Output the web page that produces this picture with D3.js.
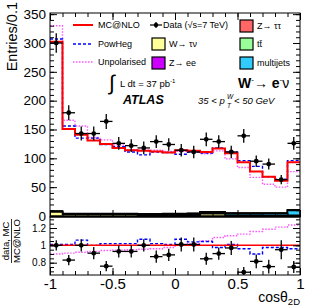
<!DOCTYPE html>
<html>
<head>
<meta charset="utf-8">
<script src="https://cdn.jsdelivr.net/npm/d3@7"></script>
<style>
  body { margin: 0; background: #fff; }
  svg text { font-family: "Liberation Sans", Arial, sans-serif; }
  .tick line { stroke: #000; stroke-width: 1; }
</style>
</head>
<body>
<div id="chart"></div>
<script>
// bin edges in cos(theta_2D)
var edges = [-1, -0.9, -0.8, -0.7, -0.6, -0.5, -0.4, -0.3, -0.2, -0.1, 0,
             0.1, 0.2, 0.3, 0.4, 0.5, 0.6, 0.7, 0.8, 0.9, 1];

// main panel (entries / 0.1)
var dataVals = [300, 179, 143, 143, 164, 126, 122, 118, 129, 124, 114, 111, 133, 129, 111, 139, 95, 90, 63, 126];
var dataErr  = [17, 13, 12, 12, 13, 11, 11, 11, 11, 11, 11, 11, 12, 11, 11, 12, 10, 9.5, 8, 11];
var mcnlo    = [302, 151, 141, 131, 125, 118, 114, 113, 112, 110, 114, 113, 111, 117, 109, 93, 77, 68, 61, 93];
var powheg   = [307, 156, 135, 135, 124, 120, 111, 106, 111, 110, 107, 111, 109, 118, 111, 96, 86, 68, 64, 96];
var unpol    = [330, 166, 156, 136, 132, 123, 115, 114, 114, 112, 112, 112, 108, 113, 99, 84, 67, 55, 50, 77];

// backgrounds (stacked)
var bkgWtaunu = [7, 3, 3, 3, 3, 3, 3, 2.5, 2.5, 2.5, 2, 2, 4, 4, 1.5, 1.5, 1.5, 1, 1, 1.5];
var bkgQCD    = [0, 0, 0, 0, 0, 0, 0, 0, 0.3, 0.5, 1, 1.5, 2, 2, 2.5, 2.5, 2.5, 3, 3, 8];
var bkgTtbar  = [1, 0.5, 0.5, 0.5, 0.5, 0.5, 0.5, 0.5, 0.5, 0.5, 0.5, 0.5, 0.5, 0.5, 0.5, 0.5, 0.5, 0.5, 0.5, 0.5];
var bkgZee    = [0.3, 0.3, 0.3, 0.3, 0.3, 0.3, 0.3, 0.3, 0.3, 0.3, 0.3, 0.3, 0.3, 0.3, 0.3, 0.3, 0.3, 0.3, 0.3, 0.3];
var bkgZtautau= [0.5, 0.5, 0.5, 0.5, 0.5, 0.5, 0.5, 0.5, 0.5, 0.5, 0.5, 0.5, 0.5, 0.5, 0.5, 0.5, 0.5, 0.5, 0.5, 0.5];

// ratio panel
var ratioData   = [1.0, 0.83, 1.0, 0.91, 0.76, 0.93, 0.93, 1.0, 0.87, 0.89, 1.01, 1.01, 0.845, 0.905, 0.97, 0.69, 0.815, 0.755, 0.95, 0.75];
var ratioErr    = [0.06, 0.06, 0.07, 0.07, 0.06, 0.07, 0.07, 0.07, 0.07, 0.07, 0.08, 0.08, 0.07, 0.07, 0.08, 0.06, 0.08, 0.08, 0.11, 0.07];
var ratioPowheg = [1.01, 1.01, 1.06, 1.0, 1.02, 1.02, 1.02, 1.07, 1.02, 1.01, 1.07, 1.04, 1.045, 0.975, 1.01, 0.96, 0.9, 0.975, 0.975, 0.96];
var ratioUnpol  = [0.90, 0.91, 0.92, 0.93, 0.94, 0.945, 0.95, 0.955, 0.96, 0.975, 1.0, 1.02, 1.05, 1.09, 1.11, 1.13, 1.16, 1.185, 1.21, 1.235];

var xTicks = [-1, -0.5, 0, 0.5, 1];
var xTickLabels = ["-1", "-0.5", "0", "0.5", "1"];
var yTicks = [0, 50, 100, 150, 200, 250, 300, 350];
var rTicks = [0.8, 1, 1.2];
var rTickLabels = ["0.8", "1", "1.2"];

var W = 316, H = 308;
var L = 50, R = 300, T = 13, B = 217, RB = 275;

var svg = d3.select("#chart").append("svg").attr("width", W).attr("height", H);

var x = d3.scaleLinear().domain([-1, 1]).range([L, R]);
var y = d3.scaleLinear().domain([0, 352]).range([216, T]);
var yr = d3.scaleLinear().domain([0.658, 1.327]).range([RB, B]);

function stepPts(vals) {
  var p = vals.map(function(v, i) { return [edges[i], v]; });
  p.push([edges[edges.length - 1], vals[vals.length - 1]]);
  return p;
}
var lineMain = d3.line().x(function(d) { return x(d[0]); }).y(function(d) { return y(d[1]); }).curve(d3.curveStepAfter);
var lineRatio = d3.line().x(function(d) { return x(d[0]); }).y(function(d) { return yr(d[1]); }).curve(d3.curveStepAfter);

svg.append("clipPath").attr("id", "cmain").append("rect").attr("x", L).attr("y", T).attr("width", R - L).attr("height", B - T);
svg.append("clipPath").attr("id", "cratio").append("rect").attr("x", L).attr("y", B).attr("width", R - L).attr("height", RB - B);

var gm = svg.append("g").attr("clip-path", "url(#cmain)");

// stacked backgrounds
var bkgKeys = ["wtaunu", "qcd", "ttbar", "zee", "ztautau"];
var bkgCols = {wtaunu: "#ffff99", qcd: "#33ccff", ttbar: "#99ff99", zee: "#cc00ff", ztautau: "#ff6666"};
var rows = dataVals.map(function(d, i) {
  return {wtaunu: bkgWtaunu[i], qcd: bkgQCD[i], ttbar: bkgTtbar[i], zee: bkgZee[i], ztautau: bkgZtautau[i]};
});
var stacked = d3.stack().keys(bkgKeys)(rows);
var area = d3.area().x(function(d) { return x(d[0]); }).y0(y(0)).y1(function(d) { return y(d[1]); }).curve(d3.curveStepAfter);
stacked.slice().reverse().forEach(function(s) {
  var tops = stepPts(s.map(function(d) { return d[1]; }));
  gm.append("path").attr("d", area(tops)).attr("fill", bkgCols[s.key]).attr("stroke", "#000").attr("stroke-width", 1.5);
});

// MC curves
gm.append("path").attr("d", lineMain(stepPts(unpol))).attr("fill", "none")
  .attr("stroke", "#ff55ff").attr("stroke-width", 1.4).attr("stroke-dasharray", "1.5,1.5");
gm.append("path").attr("d", lineMain(stepPts(powheg))).attr("fill", "none")
  .attr("stroke", "#0000ff").attr("stroke-width", 1.4).attr("stroke-dasharray", "3,2");
gm.append("path").attr("d", lineMain(stepPts(mcnlo))).attr("fill", "none")
  .attr("stroke", "#ff0000").attr("stroke-width", 2);

// data points
var dg = gm.append("g");
dataVals.forEach(function(v, i) {
  var cx = x((edges[i] + edges[i + 1]) / 2);
  dg.append("line").attr("x1", x(edges[i])).attr("x2", x(edges[i + 1])).attr("y1", y(v)).attr("y2", y(v))
    .attr("stroke", "#000").attr("stroke-width", 1.3);
  dg.append("line").attr("x1", cx).attr("x2", cx).attr("y1", y(v - dataErr[i])).attr("y2", y(v + dataErr[i]))
    .attr("stroke", "#000").attr("stroke-width", 1.3);
  dg.append("circle").attr("cx", cx).attr("cy", y(v)).attr("r", 2.4).attr("fill", "#000");
});

// ratio panel
var gr = svg.append("g").attr("clip-path", "url(#cratio)");
gr.append("path").attr("d", lineRatio(stepPts(ratioUnpol))).attr("fill", "none")
  .attr("stroke", "#ff55ff").attr("stroke-width", 1.4).attr("stroke-dasharray", "1.5,1.5");
gr.append("path").attr("d", lineRatio(stepPts(ratioPowheg))).attr("fill", "none")
  .attr("stroke", "#0000ff").attr("stroke-width", 1.4).attr("stroke-dasharray", "3,2");
gr.append("line").attr("x1", L).attr("x2", R).attr("y1", yr(1)).attr("y2", yr(1))
  .attr("stroke", "#ff0000").attr("stroke-width", 1.5);
ratioData.forEach(function(v, i) {
  var cx = x((edges[i] + edges[i + 1]) / 2);
  gr.append("line").attr("x1", x(edges[i])).attr("x2", x(edges[i + 1])).attr("y1", yr(v)).attr("y2", yr(v))
    .attr("stroke", "#000").attr("stroke-width", 1.3);
  gr.append("line").attr("x1", cx).attr("x2", cx).attr("y1", yr(v - ratioErr[i])).attr("y2", yr(v + ratioErr[i]))
    .attr("stroke", "#000").attr("stroke-width", 1.3);
  gr.append("circle").attr("cx", cx).attr("cy", yr(v)).attr("r", 2.4).attr("fill", "#000");
});

// axes (ticks inside, ROOT style)
function addAxis(axis, tx, ty, fs) {
  var g = svg.append("g").attr("transform", "translate(" + tx + "," + ty + ")").call(axis);
  g.select(".domain").remove();
  g.selectAll("text").attr("font-size", fs).attr("font-family", "'Liberation Sans', Arial, sans-serif").attr("fill", "#000");
  return g;
}
var minorX = d3.range(-1, 1.0001, 0.1);
var minorY = d3.range(0, 351, 10);
var minorR = d3.range(0.7, 1.3001, 0.05);

addAxis(d3.axisLeft(y).tickValues(yTicks).tickSize(-7).tickPadding(4).tickFormat(d3.format("d")), L, 0, 13.5);
addAxis(d3.axisLeft(y).tickValues(minorY).tickSize(-4).tickFormat(""), L, 0, 10);
addAxis(d3.axisRight(y).tickValues(yTicks).tickSize(-7).tickFormat(""), R, 0, 10);
addAxis(d3.axisRight(y).tickValues(minorY).tickSize(-4).tickFormat(""), R, 0, 10);
addAxis(d3.axisTop(x).tickValues(xTicks).tickSize(-7).tickFormat(""), 0, T, 10);
addAxis(d3.axisTop(x).tickValues(minorX).tickSize(-4).tickFormat(""), 0, T, 10);
addAxis(d3.axisBottom(x).tickValues(xTicks).tickSize(-7).tickFormat(""), 0, B, 10);
addAxis(d3.axisBottom(x).tickValues(minorX).tickSize(-4).tickFormat(""), 0, B, 10);

addAxis(d3.axisLeft(yr).tickValues(rTicks).tickSize(-7).tickPadding(4)
  .tickFormat(function(d, i) { return rTickLabels[i]; }), L, 0, 10);
addAxis(d3.axisLeft(yr).tickValues(minorR).tickSize(-4).tickFormat(""), L, 0, 10);
addAxis(d3.axisRight(yr).tickValues(rTicks).tickSize(-7).tickFormat(""), R, 0, 10);
addAxis(d3.axisRight(yr).tickValues(minorR).tickSize(-4).tickFormat(""), R, 0, 10);
addAxis(d3.axisBottom(x).tickValues(xTicks).tickSize(-7).tickPadding(3)
  .tickFormat(function(d, i) { return xTickLabels[i]; }), 0, RB, 15);
addAxis(d3.axisBottom(x).tickValues(minorX).tickSize(-4).tickFormat(""), 0, RB, 10);

// frames
svg.append("rect").attr("x", L).attr("y", T).attr("width", R - L).attr("height", B - T)
  .attr("fill", "none").attr("stroke", "#000").attr("stroke-width", 1);
svg.append("rect").attr("x", L).attr("y", B).attr("width", R - L).attr("height", RB - B)
  .attr("fill", "none").attr("stroke", "#000").attr("stroke-width", 1);

// axis titles
svg.append("text").attr("transform", "translate(16.5,2) rotate(-90)").attr("text-anchor", "end")
  .attr("font-size", 14.5).text("Entries/0.1");
var rt = svg.append("g").attr("transform", "translate(0,241) rotate(-90)");
rt.append("text").attr("x", 0).attr("y", 9).attr("text-anchor", "middle").attr("font-size", 9.5).text("data, MC");
rt.append("line").attr("x1", -22).attr("x2", 22).attr("y1", 11.5).attr("y2", 11.5).attr("stroke", "#000").attr("stroke-width", 0.8);
rt.append("text").attr("x", 0).attr("y", 19.5).attr("text-anchor", "middle").attr("font-size", 9.5).text("MC@NLO");
var xt = svg.append("text").attr("x", R).attr("y", 302).attr("text-anchor", "end").attr("font-size", 14);
xt.append("tspan").text("cos\u03b8");
xt.append("tspan").attr("font-size", 9.5).attr("dy", 3).text("2D");

// legend
var fs = 9;
var lgLines = [
  {label: "MC@NLO", color: "#ff0000", dash: null, w: 2, yy: 25},
  {label: "PowHeg", color: "#0000ff", dash: "3,2", w: 1.4, yy: 44},
  {label: "Unpolarised", color: "#ff55ff", dash: "1.5,1.5", w: 1.4, yy: 62}
];
lgLines.forEach(function(d) {
  svg.append("line").attr("x1", 73).attr("x2", 93).attr("y1", d.yy).attr("y2", d.yy)
    .attr("stroke", d.color).attr("stroke-width", d.w).attr("stroke-dasharray", d.dash);
  svg.append("text").attr("x", 98).attr("y", d.yy + 3.3).attr("font-size", fs).text(d.label);
});
svg.append("line").attr("x1", 150).attr("x2", 162).attr("y1", 25).attr("y2", 25).attr("stroke", "#000").attr("stroke-width", 1.2);
svg.append("line").attr("x1", 156).attr("x2", 156).attr("y1", 22).attr("y2", 28).attr("stroke", "#000").attr("stroke-width", 1.2);
svg.append("circle").attr("cx", 156).attr("cy", 25).attr("r", 2.2).attr("fill", "#000");
svg.append("text").attr("x", 163).attr("y", 28.3).attr("font-size", fs).text("Data (\u221as=7 TeV)");

var lgBoxes = [
  {label: "W\u2192 \u03c4\u03bd", key: "wtaunu", bx: 152, yy: 44},
  {label: "Z\u2192 ee", key: "zee", bx: 152, yy: 63},
  {label: "Z\u2192 \u03c4\u03c4", key: "ztautau", bx: 240, yy: 26},
  {label: "tt\u0304", key: "ttbar", bx: 240, yy: 44},
  {label: "multijets", key: "qcd", bx: 240, yy: 63}
];
lgBoxes.forEach(function(d) {
  svg.append("rect").attr("x", d.bx).attr("y", d.yy - 6).attr("width", 13).attr("height", 12)
    .attr("fill", bkgCols[d.key]).attr("stroke", "#000").attr("stroke-width", 1.2);
  svg.append("text").attr("x", d.bx + 17).attr("y", d.yy + 3.3).attr("font-size", fs).text(d.label);
});

// annotations
svg.append("text").attr("x", 109).attr("y", 90).attr("font-size", 21).attr("font-weight", 300).text("\u222b");
var lum = svg.append("text").attr("x", 120).attr("y", 86.5).attr("font-size", 9.5);
lum.append("tspan").text("L dt = 37 pb");
lum.append("tspan").attr("font-size", 6).attr("dy", -4).text("-1");
svg.append("text").attr("x", 123).attr("y", 104).attr("font-size", 12.5).attr("font-weight", "bold")
  .attr("font-style", "italic").text("ATLAS");

var proc = svg.append("text").attr("x", 238).attr("y", 88).attr("font-size", 14);
proc.append("tspan").attr("font-weight", "bold").text("W");
proc.append("tspan").attr("font-size", 8).attr("dy", -6).text("-");
proc.append("tspan").attr("dy", 6).text("\u2192 ");
proc.append("tspan").attr("font-weight", "bold").text("e");
proc.append("tspan").attr("font-size", 8).attr("dy", -6).text("-");
proc.append("tspan").attr("dy", 6).text("\u03bd");

var cut = svg.append("text").attr("x", 198).attr("y", 104).attr("font-size", 9.5).attr("font-style", "italic");
cut.append("tspan").text("35 < p");
svg.append("text").attr("x", 227).attr("y", 99).attr("font-size", 6.5).attr("font-style", "italic").text("W");
svg.append("text").attr("x", 227).attr("y", 108).attr("font-size", 6.5).attr("font-style", "italic").text("T");
svg.append("text").attr("x", 234).attr("y", 104).attr("font-size", 9.5).attr("font-style", "italic").text("< 50 GeV");
</script>
</body>
</html>
